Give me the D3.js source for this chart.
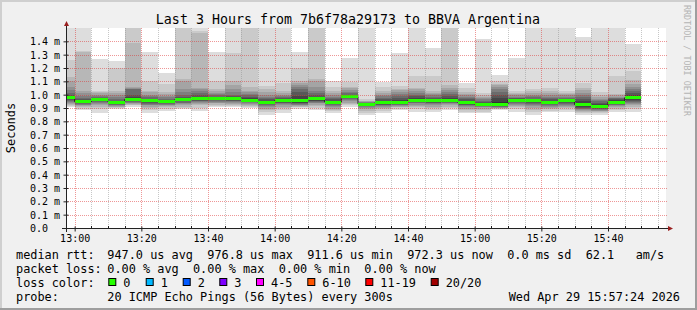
<!DOCTYPE html>
<html><head><meta charset="utf-8">
<script src="https://cdn.jsdelivr.net/npm/d3@7"></script>
<style>
html,body{margin:0;padding:0;background:#f0f0f0;}
svg{display:block;}
text{font-family:"DejaVu Sans Mono",monospace;}
</style>
</head><body>
<svg id="chart" width="697" height="310"></svg>
<script>
// ---------------- data ----------------
const chartTitle = "Last 3 Hours from 7b6f78a29173 to BBVA Argentina";
const yAxisTitle = "Seconds";
const watermark = "RRDTOOL / TOBI OETIKER";
const rangeStart = "2026-04-29 12:57:24";
const rangeEnd   = "2026-04-29 15:57:24";
const stepMinutes = 5;
const stepEnd = ["13:00","13:05","13:10","13:15","13:20","13:25","13:30","13:35","13:40","13:45",
                 "13:50","13:55","14:00","14:05","14:10","14:15","14:20","14:25","14:30","14:35",
                 "14:40","14:45","14:50","14:55","15:00","15:05","15:10","15:15","15:20","15:25",
                 "15:30","15:35","15:40","15:45","15:50"];
// median RTT per step (ms)
const median = [0.977,0.947,0.962,0.945,0.965,0.955,0.947,0.962,0.970,0.970,
                0.970,0.960,0.943,0.955,0.953,0.968,0.945,0.985,0.930,0.938,
                0.945,0.960,0.953,0.960,0.938,0.930,0.930,0.960,0.953,0.943,
                0.953,0.925,0.912,0.945,0.977];
// sorted ping RTTs per step (ms), rank 1 = fastest ... rank 20 = slowest
const ping01 = [0.910,0.885,0.862,0.895,0.910,0.860,0.880,0.890,0.880,0.905,0.905,0.900,0.850,0.865,0.895,0.885,0.860,0.905,0.848,0.860,0.885,0.873,0.873,0.885,0.860,0.860,0.885,0.873,0.850,0.870,0.873,0.848,0.850,0.873,0.873];
const ping02 = [0.917,0.895,0.895,0.900,0.920,0.885,0.895,0.900,0.900,0.915,0.912,0.910,0.870,0.885,0.905,0.900,0.875,0.920,0.865,0.875,0.895,0.890,0.885,0.900,0.872,0.872,0.890,0.890,0.872,0.880,0.888,0.860,0.860,0.885,0.890];
const ping03 = [0.925,0.905,0.910,0.905,0.925,0.900,0.905,0.910,0.920,0.925,0.920,0.918,0.885,0.900,0.910,0.915,0.885,0.930,0.880,0.890,0.905,0.905,0.900,0.910,0.885,0.885,0.895,0.905,0.888,0.890,0.900,0.870,0.870,0.895,0.905];
const ping04 = [0.932,0.915,0.920,0.910,0.930,0.910,0.915,0.920,0.930,0.935,0.930,0.925,0.895,0.910,0.915,0.925,0.895,0.940,0.890,0.900,0.910,0.915,0.910,0.920,0.895,0.895,0.900,0.915,0.900,0.900,0.910,0.878,0.875,0.905,0.920];
const ping05 = [0.940,0.920,0.930,0.915,0.935,0.920,0.920,0.930,0.940,0.940,0.940,0.932,0.905,0.920,0.920,0.935,0.905,0.950,0.900,0.908,0.915,0.925,0.920,0.930,0.905,0.905,0.903,0.925,0.912,0.908,0.918,0.885,0.880,0.912,0.930];
const ping06 = [0.947,0.925,0.940,0.920,0.940,0.925,0.925,0.935,0.945,0.948,0.945,0.937,0.912,0.930,0.925,0.940,0.912,0.958,0.910,0.915,0.920,0.935,0.930,0.935,0.912,0.910,0.907,0.933,0.922,0.915,0.925,0.890,0.885,0.920,0.940];
const ping07 = [0.952,0.930,0.945,0.925,0.945,0.930,0.930,0.940,0.950,0.953,0.950,0.942,0.920,0.935,0.930,0.945,0.920,0.965,0.915,0.920,0.925,0.940,0.935,0.940,0.920,0.915,0.910,0.940,0.930,0.920,0.932,0.895,0.890,0.925,0.947];
const ping08 = [0.958,0.935,0.950,0.930,0.950,0.935,0.935,0.950,0.955,0.958,0.955,0.947,0.928,0.940,0.935,0.950,0.928,0.972,0.920,0.925,0.930,0.945,0.940,0.945,0.925,0.920,0.912,0.947,0.938,0.927,0.937,0.900,0.895,0.930,0.955];
const ping09 = [0.965,0.940,0.955,0.935,0.955,0.945,0.940,0.955,0.960,0.963,0.962,0.952,0.935,0.945,0.940,0.955,0.935,0.978,0.925,0.930,0.935,0.950,0.945,0.950,0.930,0.925,0.915,0.952,0.945,0.932,0.942,0.908,0.900,0.935,0.962];
const ping10 = [0.972,0.945,0.960,0.940,0.960,0.952,0.945,0.960,0.965,0.968,0.968,0.958,0.940,0.952,0.946,0.960,0.942,0.983,0.928,0.935,0.940,0.955,0.950,0.955,0.935,0.930,0.918,0.957,0.950,0.938,0.948,0.915,0.905,0.940,0.970];
const ping11 = [0.982,0.950,0.963,0.945,0.970,0.958,0.950,0.965,0.975,0.972,0.972,0.965,0.948,0.958,0.960,0.975,0.948,0.988,0.932,0.942,0.950,0.965,0.957,0.965,0.942,0.935,0.942,0.962,0.955,0.947,0.957,0.935,0.919,0.950,0.985];
const ping12 = [0.990,0.958,0.967,0.950,0.980,0.963,0.955,0.975,0.985,0.978,0.980,0.975,0.955,0.965,0.990,0.985,0.955,0.993,0.935,0.955,0.960,0.975,0.965,0.975,0.955,0.940,0.975,0.967,0.962,0.955,0.962,0.955,0.930,0.958,0.995];
const ping13 = [0.998,0.965,0.972,0.955,1.000,0.970,0.960,0.985,0.995,0.985,0.990,0.985,0.965,0.972,1.020,0.995,0.965,1.000,0.937,0.965,0.975,0.990,0.975,0.990,0.965,0.945,1.000,0.972,0.970,0.965,0.967,0.970,0.940,0.965,1.010];
const ping14 = [1.010,0.975,0.980,0.965,1.040,0.980,0.970,1.000,1.010,0.995,1.000,0.995,0.975,0.980,1.040,1.010,0.975,1.010,0.940,0.978,0.990,1.000,0.985,1.005,0.975,0.955,1.020,0.978,0.980,0.975,0.975,0.985,0.950,0.972,1.025];
const ping15 = [1.035,0.990,0.990,0.980,1.045,0.990,0.980,1.020,1.030,1.005,1.020,1.005,0.985,0.990,1.060,1.030,0.985,1.020,0.942,0.990,1.005,1.015,0.995,1.020,0.985,0.965,1.040,0.985,0.990,0.985,0.985,1.000,0.960,0.978,1.040];
const ping16 = [1.060,1.010,1.000,0.995,1.050,1.000,0.990,1.040,1.040,1.015,1.040,1.020,1.000,1.000,1.075,1.060,0.995,1.035,0.945,1.000,1.020,1.030,1.005,1.035,0.995,0.975,1.055,0.995,1.000,0.995,0.995,1.015,0.970,0.985,1.060];
const ping17 = [1.100,1.030,1.010,1.010,1.055,1.020,1.005,1.100,1.050,1.030,1.070,1.030,1.020,1.015,1.090,1.100,1.010,1.050,0.950,1.015,1.035,1.040,1.015,1.050,1.005,0.985,1.070,1.005,1.010,1.010,1.005,1.035,0.985,0.995,1.080];
const ping18 = [1.135,1.320,1.020,1.030,1.390,1.030,1.020,1.115,1.465,1.040,1.105,1.055,1.040,1.030,1.100,1.115,1.030,1.060,0.955,1.030,1.045,1.048,1.025,1.073,1.020,0.995,1.080,1.015,1.025,1.025,1.015,1.050,1.000,1.005,1.110];
const ping19 = [1.260,1.330,1.030,1.200,1.550,1.105,1.080,1.550,1.475,1.100,1.310,1.550,1.065,1.090,1.200,1.550,1.055,1.095,0.965,1.055,1.065,1.140,1.140,1.550,1.048,1.010,1.100,1.028,1.040,1.048,1.030,1.085,1.022,1.140,1.180];
const ping20 = [1.600,1.600,1.265,1.250,1.600,1.320,1.160,1.600,1.600,1.320,1.600,1.600,1.600,1.600,1.320,1.600,1.105,1.278,1.600,1.098,1.315,1.600,1.348,1.600,1.090,1.415,1.148,1.277,1.600,1.600,1.600,1.435,1.600,1.600,1.380];

const yTicks = [0,0.1,0.2,0.3,0.4,0.5,0.6,0.7,0.8,0.9,1.0,1.1,1.2,1.3,1.4];
const xTicks = ["13:00","13:20","13:40","14:00","14:20","14:40","15:00","15:20","15:40"];
const lossLabels = ["0","1","2","3","4-5","6-10","11-19","20/20"];
const lossColors = ["#26ff00","#00b8ff","#0059ff","#7e00ff","#ff00ff","#ff5500","#ff0000","#a10000"];
const rttStats  = "947.0 us avg  976.8 us max  911.6 us min  972.3 us now  0.0 ms sd  62.1   am/s";
const lossStats = "0.00 % avg  0.00 % max  0.00 % min  0.00 % now";
const probeText = "20 ICMP Echo Pings (56 Bytes) every 300s";
const stampText = "Wed Apr 29 15:57:24 2026";

// ---------------- layout ----------------
const W = 697, H = 310;
const L = 66, R = 666, T = 28, B = 228;
const svg = d3.select("#chart");
const parse = d3.timeParse("%Y-%m-%d %H:%M:%S");
const t0 = parse(rangeStart), t1 = parse(rangeEnd);
const dayStr = rangeStart.slice(0, 11);
const ends = stepEnd.map(s => parse(dayStr + s + ":00"));
const x = d3.scaleTime().domain([t0, t1]).range([L, R]);
const y = d3.scaleLinear().domain([0, 1.5]).range([B, T]);
const pings = [ping01,ping02,ping03,ping04,ping05,ping06,ping07,ping08,ping09,ping10,
               ping11,ping12,ping13,ping14,ping15,ping16,ping17,ping18,ping19,ping20];

// background + frame
svg.append("rect").attr("width", W).attr("height", H).attr("fill", "#f0f0f0");
svg.append("rect").attr("x",0).attr("y",0).attr("width",W).attr("height",2).attr("fill","#cfcfcf");
svg.append("rect").attr("x",0).attr("y",0).attr("width",2).attr("height",H).attr("fill","#cfcfcf");
svg.append("rect").attr("x",0).attr("y",H-2).attr("width",W).attr("height",2).attr("fill","#9e9e9e");
svg.append("rect").attr("x",W-2).attr("y",0).attr("width",2).attr("height",H).attr("fill","#9e9e9e");

// canvas
svg.append("rect").attr("x", L).attr("y", T).attr("width", R - L).attr("height", B - T).attr("fill", "#ffffff");
svg.append("clipPath").attr("id","plotclip").append("rect")
  .attr("x", L).attr("y", T).attr("width", R - L).attr("height", B - T);

function stepped(fn) {
  const pts = [];
  ends.forEach((e, j) => {
    const s = d3.timeMinute.offset(e, -stepMinutes);
    const v = fn(j);
    pts.push(Object.assign({t: s}, v));
    pts.push(Object.assign({t: e}, v));
  });
  return pts;
}

const plot = svg.append("g").attr("clip-path", "url(#plotclip)");
// smoke bands (smokeping style: outer pair lightest)
const half = pings.length / 2;
for (let i = 0; i < half; i++) {
  const lo = pings[i], hi = pings[pings.length - 1 - i];
  const c = Math.floor(190 / half * (half - (i + 1))) + 50;
  const area = d3.area().x(d => x(d.t)).y0(d => y(d.lo)).y1(d => y(d.hi));
  plot.append("path")
    .attr("d", area(stepped(j => ({lo: lo[j], hi: hi[j]}))))
    .attr("fill", d3.rgb(c, c, c).formatHex())
    .attr("shape-rendering", "crispEdges");
}

// grid
const grid = svg.append("g");
const minorTimes = d3.timeMinute.every(5).range(t0, t1);
minorTimes.forEach(t => {
  const major = t.getMinutes() % 20 === 0;
  const px = Math.round(x(t)) + 0.5;
  grid.append("line").attr("x1", px).attr("x2", px).attr("y1", T).attr("y2", B)
    .attr("stroke", major ? "rgba(222,48,48,0.5)" : "rgba(143,143,143,0.5)")
    .attr("stroke-dasharray", "1,1");
});
yTicks.filter(v => v > 0).forEach(v => {
  const py = Math.round(y(v)) + 0.5;
  grid.append("line").attr("x1", L).attr("x2", R + 2).attr("y1", py).attr("y2", py)
    .attr("stroke", "rgba(222,48,48,0.5)").attr("stroke-dasharray", "1,1");
});

// median: dark step line then loss-coloured band
const medPts = stepped(j => ({m: median[j]}));
plot.append("path")
  .attr("d", d3.line().x(d => x(d.t)).y(d => y(d.m))(medPts))
  .attr("fill", "none").attr("stroke", "#202020").attr("stroke-width", 1);
plot.append("path")
  .attr("d", d3.area().x(d => x(d.t)).y0(d => y(d.m) + 1.5).y1(d => y(d.m) - 1.5)(medPts))
  .attr("fill", lossColors[0]).attr("shape-rendering", "crispEdges");

// axes
const xAxisG = svg.append("g").attr("transform", `translate(0,${B + 0.5})`)
  .call(d3.axisBottom(x)
    .tickValues(xTicks.map(s => parse(dayStr + s + ":00")))
    .tickFormat(d3.timeFormat("%H:%M"))
    .tickSize(3).tickPadding(3));
xAxisG.select(".domain").remove();
xAxisG.selectAll("line").attr("stroke", "#222").attr("y1", -2);
xAxisG.selectAll("text").attr("font-family", "DejaVu Sans Mono").attr("font-size", 10).attr("fill", "#000");
minorTimes.filter(t => t.getMinutes() % 20 !== 0).forEach(t => {
  const px = Math.round(x(t)) + 0.5;
  svg.append("line").attr("x1", px).attr("x2", px).attr("y1", B - 2).attr("y2", B + 1).attr("stroke", "#222");
});

const yAxisG = svg.append("g").attr("transform", `translate(${L + 0.5},0)`)
  .call(d3.axisLeft(y).tickValues(yTicks)
    .tickFormat(v => v === 0 ? "0.0" : d3.format(".1f")(v) + " m")
    .tickSize(3).tickPadding(3));
yAxisG.select(".domain").remove();
yAxisG.selectAll("line").attr("stroke", "#222").attr("x2", -3).attr("x1", 2);
yAxisG.selectAll("text").attr("font-family", "DejaVu Sans Mono").attr("font-size", 10)
  .attr("fill", "#000").attr("text-anchor", "start").attr("x", 30 - (L + 0.5)).attr("dy", "0.35em");

// axis lines + arrows
svg.append("line").attr("x1", L + 0.5).attr("x2", L + 0.5).attr("y1", B + 4).attr("y2", T - 4).attr("stroke", "#222");
svg.append("line").attr("x1", L - 4).attr("x2", R + 4).attr("y1", B + 0.5).attr("y2", B + 0.5).attr("stroke", "#222");
svg.append("path").attr("d", `M${L - 2},${T - 2} L${L + 3},${T - 2} L${L + 0.5},${T - 7} Z`).attr("fill", "#9a2020");
svg.append("path").attr("d", `M${R + 2},${B - 2} L${R + 2},${B + 3} L${R + 7},${B + 0.5} Z`).attr("fill", "#9a2020");

// titles
svg.append("text").attr("x", 348).attr("y", 24).attr("text-anchor", "middle")
  .attr("font-size", 13.3).attr("fill", "#000").text(chartTitle);
svg.append("text").attr("transform", `translate(15,128) rotate(-90)`).attr("text-anchor", "middle")
  .attr("font-size", 12).attr("fill", "#000").text(yAxisTitle);
svg.append("text").attr("transform", `translate(684,5) rotate(90)`).attr("text-anchor", "start")
  .attr("font-size", 8.4).attr("fill", "#b4b4b4").text(watermark);

// legend
const fs = 11.86;
function ltext(xp, yp, s, anchor) {
  return svg.append("text").attr("x", xp).attr("y", yp).attr("font-size", fs)
    .attr("fill", "#000").attr("text-anchor", anchor || "start")
    .attr("xml:space", "preserve").style("white-space", "pre").text(s);
}
ltext(16, 259, "median rtt:");
ltext(107.3, 259, rttStats);
ltext(16, 273, "packet loss:");
ltext(107.3, 273, lossStats);
ltext(16, 287, "loss color:");
const boxX = [108.3, 145.7, 182.7, 219.3, 256, 307.3, 365.3, 430.7];
lossLabels.forEach((lab, i) => {
  svg.append("rect").attr("x", boxX[i] + 0.5).attr("y", 278.5).attr("width", 7).attr("height", 7)
    .attr("fill", lossColors[i]).attr("stroke", "#000").attr("stroke-width", 1);
  ltext(boxX[i] + 15, 287, lab);
});
ltext(16, 301, "probe:");
ltext(107.3, 301, probeText);
ltext(680, 301, stampText, "end");
</script>
</body></html>
